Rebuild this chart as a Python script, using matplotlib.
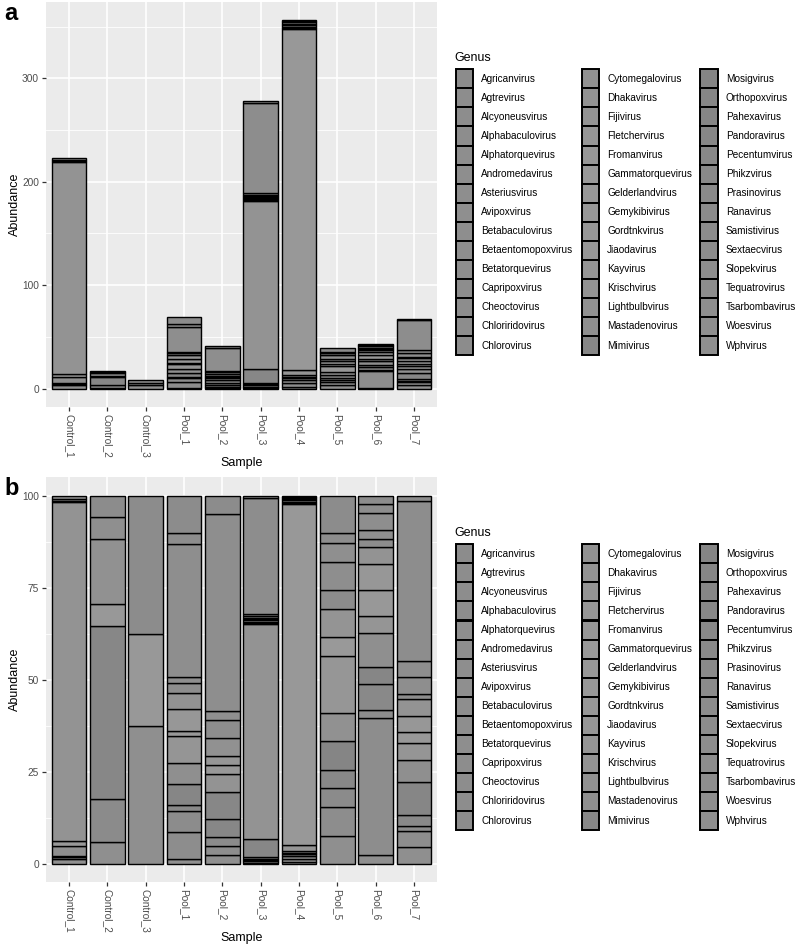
import numpy as np
import matplotlib
matplotlib.use('Agg')
import matplotlib.pyplot as plt
from matplotlib.patches import Rectangle

plt.rcParams['font.family'] = ['Liberation Sans', 'DejaVu Sans']

# Samples and read counts per genus segment (bottom -> top of each stack)
samples = ['Control_1', 'Control_2', 'Control_3', 'Pool_1', 'Pool_2',
           'Pool_3', 'Pool_4', 'Pool_5', 'Pool_6', 'Pool_7']

control_1 = [3, 1, 1, 6, 3, 205, 1, 1, 2]
control_2 = [1, 2, 8, 1, 3, 1, 1]
control_3 = [3, 2, 3]
pool_1 = [1, 5, 4, 1, 4, 4, 5, 1, 4, 3, 2, 1, 25, 2, 7]
pool_2 = [1, 1, 1, 2, 3, 2, 1, 1, 2, 2, 1, 22, 2]
pool_3 = [1, 1, 1, 1, 1, 14, 162, 1, 1, 1, 1, 1, 1, 2, 87, 2]
pool_4 = [2, 3, 3, 2, 1, 2, 5, 330, 1, 1, 2, 1, 1, 1, 1]
pool_5 = [3, 3, 2, 2, 3, 3, 6, 2, 3, 2, 3, 2, 1, 4]
pool_6 = [1, 16, 1, 3, 2, 4, 2, 3, 3, 2, 1, 1, 2, 1, 1]
pool_7 = [3, 3, 1, 2, 6, 4, 3, 2, 3, 3, 1, 3, 3, 29, 1]
counts = [control_1, control_2, control_3, pool_1, pool_2,
          pool_3, pool_4, pool_5, pool_6, pool_7]

genera = ['Agricanvirus', 'Agtrevirus', 'Alcyoneusvirus', 'Alphabaculovirus',
          'Alphatorquevirus', 'Andromedavirus', 'Asteriusvirus', 'Avipoxvirus',
          'Betabaculovirus', 'Betaentomopoxvirus', 'Betatorquevirus',
          'Capripoxvirus', 'Cheoctovirus', 'Chloriridovirus', 'Chlorovirus',
          'Cytomegalovirus', 'Dhakavirus', 'Fijivirus', 'Fletchervirus',
          'Fromanvirus', 'Gammatorquevirus', 'Gelderlandvirus', 'Gemykibivirus',
          'Gordtnkvirus', 'Jiaodavirus', 'Kayvirus', 'Krischvirus',
          'Lightbulbvirus', 'Mastadenovirus', 'Mimivirus', 'Mosigvirus',
          'Orthopoxvirus', 'Pahexavirus', 'Pandoravirus', 'Pecentumvirus',
          'Phikzvirus', 'Prasinovirus', 'Ranavirus', 'Samistivirus',
          'Sextaecvirus', 'Slopekvirus', 'Tequatrovirus', 'Tsarbombavirus',
          'Woesvirus', 'Wphvirus']

# grey shade per genus (print version of the colour palette)
n_gen = len(genera)
grey_vals = np.interp(np.arange(n_gen),
                      [0, 7, 14, 15, 20, 24, 28, 29, 30, 37, 44],
                      [0.55, 0.56, 0.55, 0.57, 0.60, 0.59, 0.56, 0.53, 0.52, 0.545, 0.56])
genus_col = [(g, g, g) for g in grey_vals]

W, H = 800, 949
fig = plt.figure(figsize=(W / 100, H / 100), dpi=100)


def px_axes(left, top, right, bottom):
    return fig.add_axes([left / W, 1 - bottom / H, (right - left) / W, (bottom - top) / H])


def draw_panel(ax, percent):
    ax.set_facecolor('#EBEBEB')
    x = np.arange(1, len(samples) + 1)
    for i, seg in enumerate(counts):
        seg = np.array(seg, dtype=float)
        if percent:
            seg = seg / seg.sum() * 100
        n = len(seg)
        # first genus stacked on top
        gidx = np.round(np.linspace(0, n_gen - 1, n)).astype(int)[::-1]
        bottom = 0.0
        for j, v in enumerate(seg):
            ax.bar(x[i], v, bottom=bottom, width=0.9, color=genus_col[gidx[j]],
                   edgecolor='black', linewidth=1.0, zorder=3)
            bottom += v
    if percent:
        ax.set_ylim(-5, 105)
        ax.set_yticks([0, 25, 50, 75, 100])
        minors = [12.5, 37.5, 62.5, 87.5]
    else:
        tot = max(sum(c) for c in counts)
        ax.set_ylim(-0.05 * tot, 1.05 * tot)
        ax.set_yticks([0, 100, 200, 300])
        minors = [50, 150, 250, 350]
    for m in minors:
        ax.axhline(m, color='white', lw=0.6, zorder=1)
    ax.grid(True, which='major', color='white', lw=1.2, zorder=1)
    ax.set_axisbelow(True)
    ax.set_xlim(0.4, len(samples) + 0.6)
    ax.set_xticks(x)
    ax.set_xticklabels(samples, rotation=270, ha='center', va='top')
    ax.tick_params(axis='both', length=3, width=0.9, color='#333333',
                   labelcolor='#4D4D4D', labelsize=7.3, pad=2)
    for s in ax.spines.values():
        s.set_visible(False)


ax_a = px_axes(46, 2, 437, 407)
draw_panel(ax_a, False)
ax_b = px_axes(46, 477.3, 437, 882.4)
draw_panel(ax_b, True)

# overlay for titles, panel letters and the legends
ov = fig.add_axes([0, 0, 1, 1], facecolor='none')
ov.set_xlim(0, W)
ov.set_ylim(H, 0)
ov.axis('off')

for dy, letter in [(0, 'a'), (475, 'b')]:
    ov.text(4, 20 + dy, letter, fontsize=17, fontweight='bold', va='baseline', ha='left')
    ov.text(15, 204.5 + dy, 'Abundance', fontsize=9, rotation=90, ha='center', va='center')
    ov.text(241.5, 463 + dy, 'Sample', fontsize=9, ha='center', va='center')

    ov.text(454, 60.7 + dy, 'Genus', fontsize=9, va='baseline', ha='left')
    key_x = [455.7, 581.7, 700.0]
    txt_x = [481.0, 607.0, 726.0]
    key_w, key_h, top = 17.6, 19.05, 69.3 + dy
    for k, name in enumerate(genera):
        col, row = divmod(k, 15)
        y0 = top + row * key_h
        ov.add_patch(Rectangle((key_x[col], y0), key_w, key_h, facecolor=genus_col[k],
                               edgecolor='black', linewidth=1.4))
        ov.text(txt_x[col], y0 + key_h / 2, name, fontsize=7.2, va='center', ha='left')

fig.savefig('out.png', dpi=100)
